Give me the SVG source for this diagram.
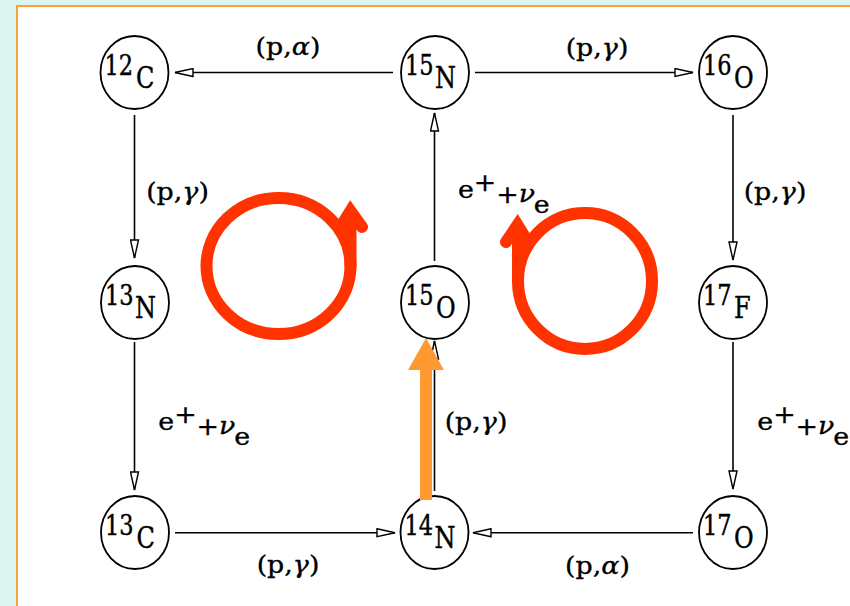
<svg xmlns="http://www.w3.org/2000/svg" width="850" height="606" viewBox="0 0 850 606">
<defs>
<style>
.nd{fill:#fff;stroke:#000;stroke-width:1.8}
.nt{font-family:"DejaVu Serif","Liberation Serif",serif;font-size:22.5px;fill:#000;stroke:#000;stroke-width:0.35}
.el{font-size:24px}
.lb{font-family:"DejaVu Serif","Liberation Serif",serif;font-size:22px;fill:#000;stroke:#000;stroke-width:0.3}
.gr{font-style:italic}
.ed{stroke:#000;stroke-width:1.6;fill:none;marker-end:url(#ah)}
.ring{fill:none;stroke:#ff3300;stroke-width:12;stroke-linecap:round;stroke-linejoin:miter;stroke-miterlimit:10}
</style>
<marker id="ah" viewBox="0 0 20 10" refX="19" refY="5" markerWidth="20" markerHeight="10" markerUnits="userSpaceOnUse" orient="auto">
<path d="M1,1 L19,5 L1,9 z" fill="#fff" stroke="#000" stroke-width="1.4"/>
</marker>
</defs>
<rect x="0" y="0" width="850" height="606" fill="#ddf4f0"/>
<rect x="17" y="6" width="900" height="700" fill="#fff" stroke="#f7a23f" stroke-width="2"/>

<g id="connectors">
<line class="ed" x1="393" y1="72.5" x2="175" y2="72.5"/>
<line class="ed" x1="475" y1="72.5" x2="693" y2="72.5"/>
<line class="ed" x1="134.5" y1="115" x2="134.5" y2="258"/>
<line class="ed" x1="134.5" y1="342" x2="134.5" y2="490"/>
<line class="ed" x1="175" y1="532.7" x2="395" y2="532.7"/>
<line class="ed" x1="693" y1="532.7" x2="473" y2="532.7"/>
<line class="ed" x1="434.5" y1="491" x2="434.5" y2="341"/>
<line class="ed" x1="434.5" y1="261" x2="434.5" y2="113"/>
<line class="ed" x1="733" y1="115" x2="733" y2="260"/>
<line class="ed" x1="733" y1="342" x2="733" y2="489"/>
<text class="lb" transform="translate(288,55) scale(1.22,1.1)" text-anchor="middle">(p,<tspan class="gr">α</tspan>)</text>
<text class="lb" transform="translate(597,56) scale(1.22,1.1)" text-anchor="middle">(p,<tspan class="gr">γ</tspan>)</text>
<text class="lb" transform="translate(177.5,200) scale(1.22,1.1)" text-anchor="middle">(p,<tspan class="gr">γ</tspan>)</text>
<text class="lb" transform="translate(775,200) scale(1.22,1.1)" text-anchor="middle">(p,<tspan class="gr">γ</tspan>)</text>
<text class="lb" transform="translate(476,430) scale(1.22,1.1)" text-anchor="middle">(p,<tspan class="gr">γ</tspan>)</text>
<text class="lb" transform="translate(288,573) scale(1.22,1.1)" text-anchor="middle">(p,<tspan class="gr">γ</tspan>)</text>
<text class="lb" transform="translate(597.5,574) scale(1.22,1.1)" text-anchor="middle">(p,<tspan class="gr">α</tspan>)</text>
<text class="lb" transform="translate(458,198) scale(1.22,1.1)">e<tspan x="13" y="-6">+</tspan><tspan x="31.4" y="4.3">+</tspan><tspan class="gr" x="49.8" y="3.4">ν</tspan><tspan x="62.2" y="13.6">e</tspan></text>
<text class="lb" transform="translate(158.3,430) scale(1.22,1.1)">e<tspan x="13" y="-6">+</tspan><tspan x="31.4" y="4.3">+</tspan><tspan class="gr" x="49.8" y="3.4">ν</tspan><tspan x="62.2" y="13.6">e</tspan></text>
<text class="lb" transform="translate(757.3,430) scale(1.22,1.1)">e<tspan x="13" y="-6">+</tspan><tspan x="31.4" y="4.3">+</tspan><tspan class="gr" x="49.8" y="3.4">ν</tspan><tspan x="62.2" y="13.6">e</tspan></text>
</g>

<g id="n12C"><ellipse class="nd" cx="134.5" cy="72.5" rx="34" ry="36.5"/><text class="nt" transform="translate(104.5,75) scale(1,1.25)">12<tspan class="el" dx="3" y="10.4">C</tspan></text></g>
<g id="n15N"><ellipse class="nd" cx="435" cy="72.5" rx="34" ry="36.5"/><text class="nt" transform="translate(405,75) scale(1,1.25)">15<tspan class="el" dx="1.5" y="10.4">N</tspan></text></g>
<g id="n16O"><ellipse class="nd" cx="733" cy="72.5" rx="34" ry="36.5"/><text class="nt" transform="translate(703,75) scale(1,1.25)">16<tspan class="el" dx="2.5" y="10.4">O</tspan></text></g>
<g id="n13N"><ellipse class="nd" cx="135" cy="302.5" rx="34" ry="36.5"/><text class="nt" transform="translate(105,305) scale(1,1.25)">13<tspan class="el" dx="1.5" y="10.4">N</tspan></text></g>
<g id="n15O"><ellipse class="nd" cx="435" cy="302.5" rx="34" ry="36.5"/><text class="nt" transform="translate(405,305) scale(1,1.25)">15<tspan class="el" dx="2.5" y="10.4">O</tspan></text></g>
<g id="n17F"><ellipse class="nd" cx="733" cy="302.5" rx="34" ry="36.5"/><text class="nt" transform="translate(703,305) scale(1,1.25)">17<tspan class="el" dx="2.5" y="10.4">F</tspan></text></g>
<g id="n13C"><ellipse class="nd" cx="135" cy="532.5" rx="34" ry="36.5"/><text class="nt" transform="translate(105,535) scale(1,1.25)">13<tspan class="el" dx="3" y="10.4">C</tspan></text></g>
<g id="n14N"><ellipse class="nd" cx="434.5" cy="532.5" rx="34" ry="36.5"/><text class="nt" transform="translate(404.5,535) scale(1,1.25)">14<tspan class="el" dx="1.5" y="10.4">N</tspan></text></g>
<g id="n17O"><ellipse class="nd" cx="733" cy="532.5" rx="34" ry="36.5"/><text class="nt" transform="translate(703,535) scale(1,1.25)">17<tspan class="el" dx="2.5" y="10.4">O</tspan></text></g>

<g id="cycle-left">
<ellipse class="ring" cx="278.5" cy="266" rx="72" ry="68"/>
<path class="ring" d="M350.5,266 L350.5,212"/>
<path class="ring" d="M340,228 L350.5,211 L362,227"/>
</g>
<g id="cycle-right">
<ellipse class="ring" cx="585" cy="281" rx="67" ry="68"/>
<path class="ring" d="M518,281 L518,228"/>
<path class="ring" d="M506,242 L517.5,225 L528,242"/>
</g>
<g id="highlight">
<rect x="420" y="368" width="12" height="132" fill="#ff9a33"/>
<path d="M408,370 L444,370 L426,338 z" fill="#ff9a33"/>
</g>
</svg>
